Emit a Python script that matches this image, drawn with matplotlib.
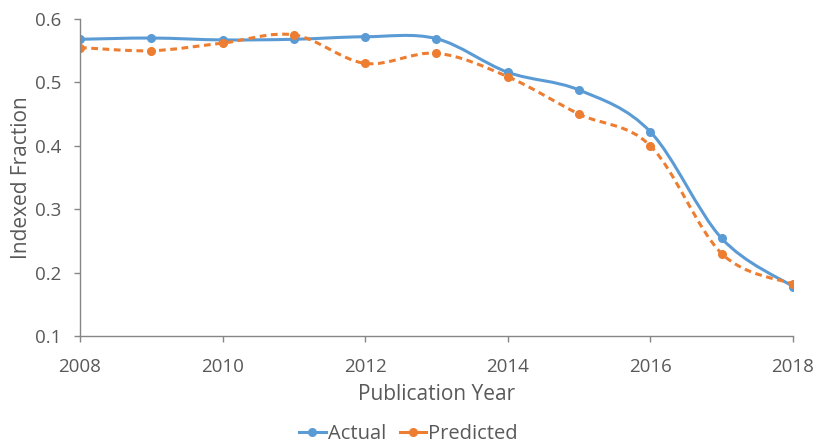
import numpy as np
import matplotlib
matplotlib.use("Agg")
import matplotlib.pyplot as plt
from matplotlib.path import Path
from matplotlib.patches import PathPatch
from matplotlib.lines import Line2D

years = [2008, 2009, 2010, 2011, 2012, 2013, 2014, 2015, 2016, 2017, 2018]
actual = [0.568, 0.570, 0.567, 0.568, 0.572, 0.569, 0.516, 0.488, 0.422, 0.254, 0.178]
predicted = [0.555, 0.550, 0.562, 0.575, 0.530, 0.546, 0.509, 0.450, 0.400, 0.230, 0.182]

BLUE = "#5B9BD5"
ORANGE = "#ED7D31"
GREY = "#595959"

plt.rcParams['font.family'] = ['Open Sans', 'DejaVu Sans']


def smooth_path(x, y):
    # Excel-like smoothed line: Catmull-Rom segments as cubic Bezier curves
    p = np.column_stack([x, y]).astype(float)
    ext = np.vstack([p[0], p, p[-1]])
    verts = [p[0]]
    codes = [Path.MOVETO]
    for i in range(len(p) - 1):
        p0, p1, p2, p3 = ext[i], ext[i + 1], ext[i + 2], ext[i + 3]
        c1 = p1 + (p2 - p0) / 6
        c2 = p2 - (p3 - p1) / 6
        verts += [c1, c2, p2]
        codes += [Path.CURVE4] * 3
    return Path(verts, codes)


fig = plt.figure(figsize=(8.17, 4.42), dpi=100)
ax = fig.add_axes([0.0979, 0.2398, 0.8727, 0.7172])

ax.add_patch(PathPatch(smooth_path(years, actual), fill=False, edgecolor=BLUE,
                       lw=2.2, capstyle='round'))
ax.add_patch(PathPatch(smooth_path(years, predicted), fill=False, edgecolor=ORANGE,
                       lw=2.2, linestyle=(0, (2.2, 1.5))))
ax.plot(years, actual, 'o', color=BLUE, ms=5.5)
ax.plot(years, predicted, 'o', color=ORANGE, ms=5.5)

ax.set_xlim(2008, 2018)
ax.set_ylim(0.1, 0.6)
ax.set_xticks(range(2008, 2019, 2))
ax.set_yticks([0.1, 0.2, 0.3, 0.4, 0.5, 0.6])
ax.set_yticklabels(['0.1', '0.2', '0.3', '0.4', '0.5', '0.6'])

for s in ['top', 'right']:
    ax.spines[s].set_visible(False)
for s in ['left', 'bottom']:
    ax.spines[s].set_color('#868686')
    ax.spines[s].set_linewidth(1.0)
ax.tick_params(colors='#868686', labelcolor=GREY, labelsize=13.5, length=4.5, width=1)
ax.tick_params(axis='x', pad=11)
ax.tick_params(axis='y', pad=9)

ax.set_xlabel('Publication Year', fontsize=15, color=GREY, labelpad=6)
ax.set_ylabel('Indexed Fraction', fontsize=15, color=GREY, labelpad=2)

handles = [Line2D([], [], color=BLUE, lw=2.2, marker='o', ms=5.5),
           Line2D([], [], color=ORANGE, lw=2.2, marker='o', ms=5.5)]
fig.legend(handles, ['Actual', 'Predicted'], loc='center', ncol=2,
           bbox_to_anchor=(0.5, 0.019), frameon=False, fontsize=14.5,
           labelcolor=GREY, handlelength=1.3, handletextpad=0.1, columnspacing=0.7)

fig.savefig('out.png', dpi=100)
